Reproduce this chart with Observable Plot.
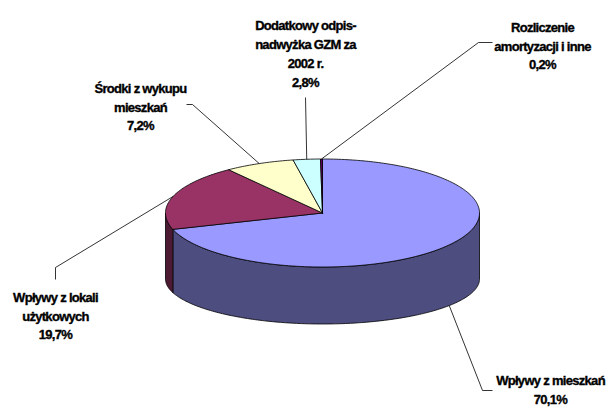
<!DOCTYPE html>
<html>
<head>
<meta charset="utf-8">
<script src="https://cdn.jsdelivr.net/npm/d3@7"></script>
<script src="https://cdn.jsdelivr.net/npm/@observablehq/plot@0.6"></script>
<style>
  html, body { margin: 0; padding: 0; background: #fff; }
  #chart { width: 608px; height: 408px; }
</style>
</head>
<body>
<div id="chart"></div>
<script>
// ---- data ----
const categories = [
  "Wpływy z mieszkań",
  "Wpływy z lokali użytkowych",
  "Środki z wykupu mieszkań",
  "Dodatkowy odpis-nadwyżka GZM za 2002 r.",
  "Rozliczenie amortyzacji i inne"
];
const values = [70.1, 19.7, 7.2, 2.8, 0.2];
const labelLines = [
  ["Wpływy z mieszkań"],
  ["Wpływy z lokali", "użytkowych"],
  ["Środki z wykupu", "mieszkań"],
  ["Dodatkowy odpis-", "nadwyżka GZM za", "2002 r."],
  ["Rozliczenie", "amortyzacji i inne"]
];

// ---- styles / layout (kept separate from data) ----
const topColors  = ["#9999FF", "#993366", "#FFFFCC", "#CCFFFF", "#660066"];
const sideColors = ["#4D4D80", "#4D1A33", "#80805F", "#5F8080", "#330033"];
const labelPos = [[550, 388], [55, 314], [140, 105], [305, 52], [542, 44]];
const leaderBend = [[482, 390], [55, 267], [192, 104], [305, 97], [478, 42]];
const leaderEnd  = [[492, 390], [55, 279], [186, 104], [305, 97], [492, 42]];
const G = {cx: 322, cy: 212.5, rx: 157, ry: 54, depth: 66, ryB: 45};

// ---- geometry derived from data ----
const rad = d => d * Math.PI / 180;
const topPt = t => [G.cx + G.rx * Math.sin(rad(t)), G.cy - G.ry * Math.cos(rad(t))];
const botPt = t => [G.cx + G.rx * Math.sin(rad(t)), G.cy + G.depth - G.ryB * Math.cos(rad(t))];
function arc(f, a, b) {
  const n = Math.max(2, Math.ceil(Math.abs(b - a)));
  const out = [];
  for (let k = 0; k <= n; k++) out.push(f(a + (b - a) * k / n));
  return out;
}
const total = d3.sum(values);
let acc = 0;
const slices = values.map((v, i) => {
  const a0 = acc / total * 360; acc += v; const a1 = acc / total * 360;
  return {i, name: categories[i], value: v, a0, a1, mid: (a0 + a1) / 2};
});

const sideRows = [];
slices.forEach(s => {
  const lo = Math.max(s.a0, 90), hi = Math.min(s.a1, 270);
  if (lo < hi) {
    const pts = [...arc(topPt, lo, hi), ...arc(botPt, hi, lo)];
    pts.push(pts[0]);
    pts.forEach(([x, y]) => sideRows.push({id: "side" + s.i, x, y, fill: sideColors[s.i]}));
  }
});
const topRows = [];
slices.forEach(s => {
  const pts = [[G.cx, G.cy], ...arc(topPt, s.a0, s.a1), [G.cx, G.cy]];
  pts.forEach(([x, y]) => topRows.push({id: "top" + s.i, x, y, fill: topColors[s.i]}));
});

const leaderRows = [];
slices.forEach(s => {
  const front = s.mid > 90 && s.mid < 270;
  const start = front ? botPt(s.mid) : topPt(s.mid);
  [start, leaderBend[s.i], leaderEnd[s.i]].forEach(([x, y]) => leaderRows.push({id: "l" + s.i, x, y}));
});

const fmt = v => v.toFixed(1).replace(".", ",") + "%";
const labels = slices.map(s => ({
  x: labelPos[s.i][0], y: labelPos[s.i][1],
  text: [...labelLines[s.i], fmt(s.value)].join("\n")
}));

const chart = Plot.plot({
  width: 608, height: 408, margin: 0,
  x: {domain: [0, 608], range: [0, 608], axis: null},
  y: {domain: [0, 408], range: [0, 408], axis: null},
  color: {type: "identity"},
  style: {background: "#fff", fontFamily: "'Liberation Sans', Arial, sans-serif", letterSpacing: "-0.7px"},
  marks: [
    Plot.line(sideRows, {x: "x", y: "y", z: "id", fill: "fill", stroke: "#000", strokeWidth: 0.8, curve: "linear"}),
    Plot.line(topRows, {x: "x", y: "y", z: "id", fill: "fill", stroke: "#000", strokeWidth: 0.8, curve: "linear"}),
    Plot.line(leaderRows, {x: "x", y: "y", z: "id", stroke: "#000", strokeWidth: 0.8, strokeLinecap: "butt"}),
    Plot.text(labels, {x: "x", y: "y", text: "text", fontSize: 13, fontWeight: "bold", lineHeight: 1.45, textAnchor: "middle", lineAnchor: "middle", fill: "#000", stroke: "#000", strokeWidth: 0.35})
  ]
});
document.getElementById("chart").appendChild(chart);
</script>
</body>
</html>
